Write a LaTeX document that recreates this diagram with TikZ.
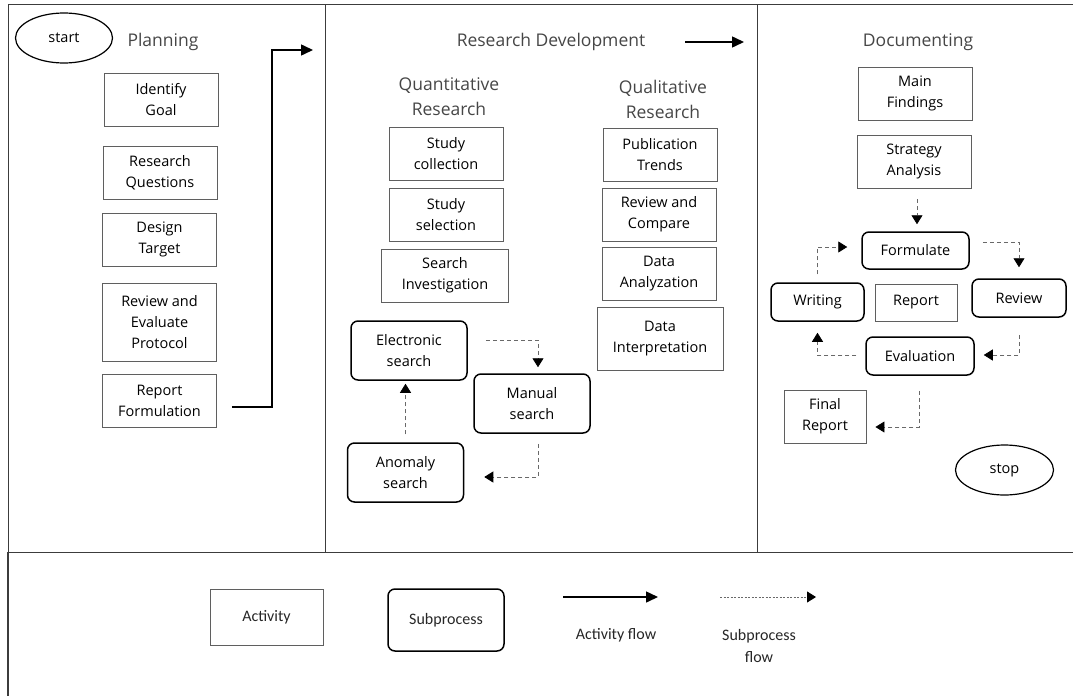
\documentclass[tikz,border=0pt]{standalone}
\usepackage{fontspec}
\setmainfont{Open Sans}
\newfontfamily\legendfont{Carlito}
\usetikzlibrary{arrows.meta,shapes.geometric}
\definecolor{FrameGray}{RGB}{60,60,60}
\definecolor{BoxGray}{RGB}{95,95,95}
\definecolor{HeadGray}{RGB}{70,70,70}
\definecolor{DashGray}{RGB}{105,105,105}

\begin{document}
\begin{tikzpicture}[x=1pt, y=-1pt,
      font=\fontsize{14.5}{21}\selectfont,
      frame/.style={draw=FrameGray, line width=1pt},
      head/.style={font=\fontsize{17.5}{25}\selectfont, text=HeadGray, align=center, inner sep=2pt},
      activity/.style={draw=BoxGray, line width=0.9pt, minimum width=114pt, minimum height=53pt,
                       inner sep=0pt, align=center},
      subproc/.style={draw=black, line width=1.5pt, rounded corners=7pt, minimum width=116pt,
                      minimum height=59pt, inner sep=0pt, align=center},
      terminal/.style={draw=black, line width=1.2pt, ellipse, minimum width=97pt, minimum height=50pt,
                       inner sep=0pt},
      legtext/.style={font=\legendfont\fontsize{16}{22}\selectfont, text=black!85, align=center},
      flow/.style={-{Triangle[length=12pt, width=11pt]}, line width=1.5pt, draw=black},
      subflow/.style={-{Triangle[length=9pt, width=11pt, color=black]}, line width=0.8pt,
                      draw=DashGray, dash pattern=on 4pt off 3pt}
    ]
    \useasboundingbox (0,0) rectangle (1073,696);

    \draw[frame] (8,552) -- (8,4) -- (1073,4);
    \draw[frame] (325,4) -- (325,552);
    \draw[frame] (757,4) -- (757,552);
    \draw[frame] (8,552) -- (1073,552);
    \draw[frame, line width=1.8pt] (8,552) -- (8,696);

    \node[terminal] (start) at (64,38) {start};
    \node[head] (planhead) at (163,42) {Planning};
    \node[activity] (goal) at (161,99.5) {Identify\\Goal};
    \node[activity] (questions) at (160,172.5) {Research\\Questions};
    \node[activity] (target) at (159.5,239.5) {Design\\Target};
    \node[activity, minimum height=78pt] (protocol) at (159.5,322) {Review and\\Evaluate\\Protocol};
    \node[activity] (rform) at (159.5,400.5) {Report\\Formulation};

    \node[head] (rdhead) at (551,42) {Research Development};
    \node[head] (quanthead) at (449,97) {Quantitative\\Research};
    \node[head] (qualhead) at (663,99) {Qualitative\\Research};
    \node[activity] (collection) at (446,154) {Study\\collection};
    \node[activity] (selection) at (446,215) {Study\\selection};
    \node[activity, minimum width=127pt] (investig) at (445,275.5) {Search\\Investigation};
    \node[activity] (trends) at (660,155) {Publication\\Trends};
    \node[activity] (compare) at (659,214.5) {Review and\\Compare};
    \node[activity] (analyz) at (659,273.5) {Data\\Analyzation};
    \node[activity, minimum width=126pt, minimum height=63pt] (interp) at (660,338.5) {Data\\Interpretation};
    \node[subproc] (elec) at (409,350.5) {Electronic\\search};
    \node[subproc] (manual) at (532,403.5) {Manual\\search};
    \node[subproc] (anomaly) at (405.5,472.5) {Anomaly\\search};

    \node[head] (dochead) at (918,42) {Documenting};
    \node[activity] (findings) at (915,93.5) {Main\\Findings};
    \node[activity] (strategy) at (914,161.5) {Strategy\\Analysis};
    \node[subproc, minimum width=107pt, minimum height=37pt] (formulate) at (915.5,250.5) {Formulate};
    \node[subproc, minimum width=93pt, minimum height=38pt] (writing) at (817.5,302) {Writing};
    \node[activity, minimum width=82pt, minimum height=37pt] (report) at (916,302.5) {Report};
    \node[subproc, minimum width=94pt, minimum height=38pt] (review) at (1019,298) {Review};
    \node[subproc, minimum width=108pt, minimum height=38pt] (evaluation) at (920,356) {Evaluation};
    \node[activity, minimum width=82pt] (final) at (825,416.5) {Final\\Report};
    \node[terminal, minimum width=98pt] (stop) at (1004.5,470) {stop};

    \coordinate (bend) at (272,50);
    \coordinate (rdin) at (313,50);
    \coordinate (docin) at (744,42);
    \draw[flow, shorten <=15pt] ([yshift=-6.5pt]rform.east) -| (bend) -- (rdin);
    \draw[flow, shorten <=38pt] (rdhead.east) -- (docin);

    \draw[subflow, shorten <=18pt, shorten >=6pt] ([yshift=10.5pt]elec.east) -| ([xshift=6pt]manual.north);
    \draw[subflow, shorten <=10pt, shorten >=20pt] ([xshift=6pt]manual.south) |- ([yshift=-4.5pt]anomaly.east);
    \draw[subflow, shorten <=8pt, shorten >=3pt] (anomaly.north) -- (anomaly.north |- elec.south);

    \draw[subflow, shorten <=11pt, shorten >=7pt] ([xshift=3pt]strategy.south) -- ([xshift=3pt]strategy.south |- formulate.north);
    \draw[subflow, shorten <=13pt, shorten >=11pt] ([yshift=8.5pt]formulate.east) -| (review.north);
    \draw[subflow, shorten <=17pt, shorten >=9pt] (review.south) |- ([yshift=1pt]evaluation.east);
    \draw[subflow, shorten <=9pt, shorten >=11pt] ([yshift=1pt]evaluation.west) -| (writing.south);
    \draw[subflow, shorten <=8pt, shorten >=14pt] (writing.north) |- ([yshift=3.5pt]formulate.west);
    \draw[subflow, shorten <=15pt, shorten >=9pt] ([xshift=-1pt]evaluation.south) |- ([yshift=-10.5pt]final.east);

    \node[activity, legtext, minimum width=113pt, minimum height=56pt] (legact) at (266.5,617) {Activity};
    \node[subproc, legtext, minimum width=116pt, minimum height=62pt] (legsub) at (446,620) {Subprocess};
    \coordinate (actfrom) at (563,597);
    \coordinate (actto) at (658,597);
    \draw[flow] (actfrom) -- (actto);
    \node[legtext] (actlab) at (616,635) {Activity flow};
    \coordinate (subfrom) at (720,597);
    \coordinate (subto) at (816,597);
    \draw[subflow, dash pattern=on 2pt off 1.5pt] (subfrom) -- (subto);
    \node[legtext] (sublab) at (759,646) {Subprocess\\flow};
  \end{tikzpicture}
\end{document}
